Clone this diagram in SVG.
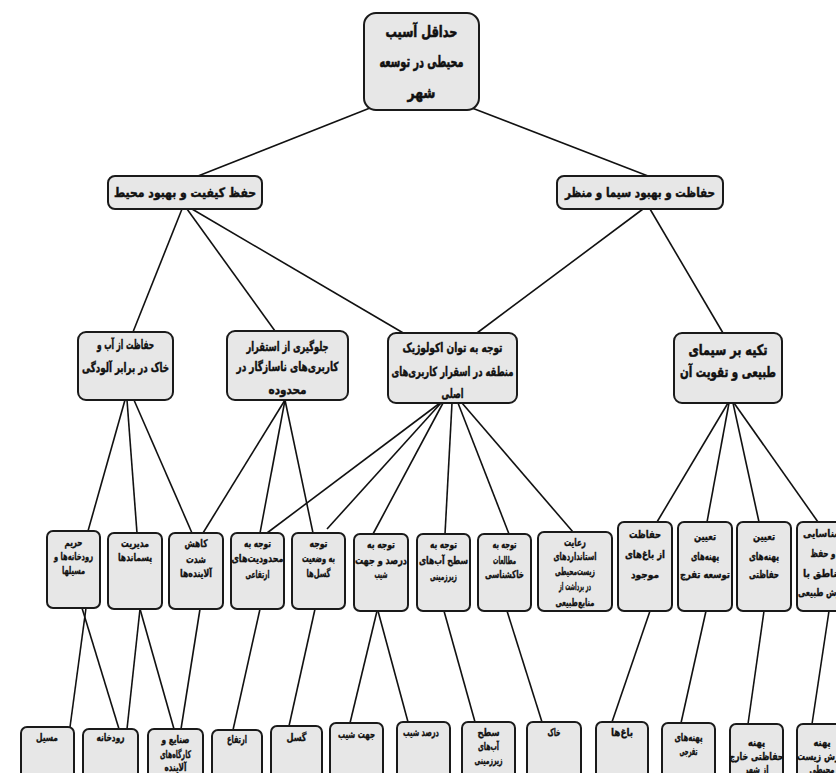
<svg xmlns="http://www.w3.org/2000/svg" width="836" height="773" viewBox="0 0 836 773">
<style>
.box{fill:#e7e7e7;stroke:#1a1a1a;stroke-width:2}
.t{font-family:"DejaVu Sans",sans-serif;font-weight:bold;text-anchor:middle;fill:#111;stroke:#111;stroke-width:0.4}
.t0{font-size:15.5px;stroke-width:0.6}
.t2{font-size:13px;stroke-width:0.5}
.t3{font-size:12.5px;stroke-width:0.45}
.t3b{font-size:14.5px;stroke-width:0.55}
.t4{font-size:10.5px;stroke-width:0.35}
.t5{font-size:10.5px;stroke-width:0.35}
#connectors line{stroke:#111;stroke-width:1.6}
</style>
<rect width="836" height="773" fill="#fff"/>
<g id="connectors">
<line x1="370" y1="108" x2="198" y2="176"/>
<line x1="472" y1="108" x2="648" y2="176"/>
<line x1="182" y1="209" x2="133" y2="332"/>
<line x1="187" y1="209" x2="275" y2="331"/>
<line x1="192" y1="209" x2="405" y2="334"/>
<line x1="643" y1="209" x2="477" y2="333"/>
<line x1="650" y1="209" x2="723" y2="333"/>
<line x1="125" y1="400" x2="88" y2="531"/>
<line x1="127" y1="400" x2="137" y2="533"/>
<line x1="134" y1="400" x2="192" y2="533"/>
<line x1="285" y1="400" x2="203" y2="533"/>
<line x1="285" y1="400" x2="260" y2="533"/>
<line x1="285" y1="400" x2="313" y2="533"/>
<line x1="440" y1="403" x2="267" y2="533"/>
<line x1="441" y1="403" x2="327" y2="529"/>
<line x1="443" y1="403" x2="373" y2="534"/>
<line x1="452" y1="403" x2="445" y2="534"/>
<line x1="458" y1="403" x2="509" y2="534"/>
<line x1="462" y1="403" x2="573" y2="532"/>
<line x1="728" y1="403" x2="657" y2="522"/>
<line x1="729" y1="403" x2="707" y2="522"/>
<line x1="733" y1="403" x2="759" y2="522"/>
<line x1="734" y1="403" x2="818" y2="522"/>
<line x1="86" y1="608" x2="70" y2="727"/>
<line x1="82" y1="608" x2="119" y2="729"/>
<line x1="140" y1="609" x2="127" y2="729"/>
<line x1="140" y1="609" x2="174" y2="729"/>
<line x1="200" y1="609" x2="181" y2="729"/>
<line x1="260" y1="609" x2="233" y2="730"/>
<line x1="315" y1="609" x2="289" y2="726"/>
<line x1="377" y1="611" x2="350" y2="723"/>
<line x1="378" y1="611" x2="408" y2="722"/>
<line x1="444" y1="611" x2="475" y2="722"/>
<line x1="507" y1="611" x2="542" y2="722"/>
<line x1="650" y1="611" x2="612" y2="722"/>
<line x1="706" y1="611" x2="681" y2="723"/>
<line x1="764" y1="611" x2="748" y2="724"/>
<line x1="829" y1="611" x2="812" y2="724"/>
</g>

<g id="root">
<rect class="box" x="364" y="13" width="115" height="97" rx="12"/>
<text class="t t0" x="421.5" y="37" textLength="72" lengthAdjust="spacingAndGlyphs">حداقل آسیب</text>
<text class="t t0" x="421.5" y="67" textLength="84" lengthAdjust="spacingAndGlyphs">محیطی در توسعه</text>
<text class="t t0" x="421.5" y="98" textLength="28" lengthAdjust="spacingAndGlyphs">شهر</text>
</g>

<g id="n-env">
<rect class="box" x="108" y="176" width="154" height="33" rx="7"/>
<text class="t t2" x="185" y="197" textLength="142" lengthAdjust="spacingAndGlyphs">حفظ کیفیت و بهبود محیط</text>
</g>
<g id="n-landscape">
<rect class="box" x="557" y="176" width="166" height="33" rx="7"/>
<text class="t t2" x="640" y="197" textLength="150" lengthAdjust="spacingAndGlyphs">حفاظت و بهبود سیما و منظر</text>
</g>

<g id="n-water-soil">
<rect class="box" x="78" y="332" width="95" height="68" rx="8"/>
<text class="t t3" x="125.5" y="349" textLength="57" lengthAdjust="spacingAndGlyphs">حفاظت از آب و</text>
<text class="t t3" x="125.5" y="372" textLength="87" lengthAdjust="spacingAndGlyphs">خاک در برابر آلودگی</text>
</g>
<g id="n-incompatible">
<rect class="box" x="227" y="331" width="121" height="69" rx="8"/>
<text class="t t3" x="287.5" y="351" textLength="82" lengthAdjust="spacingAndGlyphs">جلوگیری از استقرار</text>
<text class="t t3" x="287.5" y="371" textLength="102" lengthAdjust="spacingAndGlyphs">کاربری‌های ناسازگار در</text>
<text class="t t3" x="287.5" y="394" textLength="38" lengthAdjust="spacingAndGlyphs">محدوده</text>
</g>
<g id="n-ecology">
<rect class="box" x="388" y="333" width="129" height="70" rx="8"/>
<text class="t t3" x="452.5" y="352" textLength="100" lengthAdjust="spacingAndGlyphs">توجه به توان اکولوژیک</text>
<text class="t t3" x="452.5" y="376" textLength="122" lengthAdjust="spacingAndGlyphs">منطقه در اسقرار کاربری‌های</text>
<text class="t t3" x="452.5" y="398" textLength="22" lengthAdjust="spacingAndGlyphs">اصلی</text>
</g>
<g id="n-natural">
<rect class="box" x="674" y="333" width="108" height="70" rx="8"/>
<text class="t t3b" x="728" y="355" textLength="79" lengthAdjust="spacingAndGlyphs">تکیه بر سیمای</text>
<text class="t t3b" x="728" y="377" textLength="96" lengthAdjust="spacingAndGlyphs">طبیعی و تقویت آن</text>
</g>

<g id="n-buffer">
<rect class="box" x="47" y="531" width="53" height="77" rx="6"/>
<text class="t t4" x="73.5" y="546" textLength="18" lengthAdjust="spacingAndGlyphs">حریم</text>
<text class="t t4" x="73.5" y="560" textLength="39" lengthAdjust="spacingAndGlyphs">رودخانه‌ها و</text>
<text class="t t4" x="73.5" y="574" textLength="23" lengthAdjust="spacingAndGlyphs">مسیلها</text>
</g>
<g id="n-waste">
<rect class="box" x="108" y="533" width="54" height="76" rx="6"/>
<text class="t t4" x="135" y="547" textLength="28" lengthAdjust="spacingAndGlyphs">مدیریت</text>
<text class="t t4" x="135" y="561" textLength="34" lengthAdjust="spacingAndGlyphs">پسماندها</text>
</g>
<g id="n-pollutants">
<rect class="box" x="169" y="533" width="54" height="76" rx="6"/>
<text class="t t4" x="196" y="547" textLength="23" lengthAdjust="spacingAndGlyphs">کاهش</text>
<text class="t t4" x="196" y="563" textLength="20" lengthAdjust="spacingAndGlyphs">شدت</text>
<text class="t t4" x="196" y="577" textLength="32" lengthAdjust="spacingAndGlyphs">آلاینده‌ها</text>
</g>
<g id="n-height">
<rect class="box" x="231" y="533" width="53" height="76" rx="6"/>
<text class="t t4" x="257.5" y="547" textLength="27" lengthAdjust="spacingAndGlyphs">توجه به</text>
<text class="t t4" x="257.5" y="562" textLength="52" lengthAdjust="spacingAndGlyphs">محدودیت‌های</text>
<text class="t t4" x="257.5" y="578" textLength="24" lengthAdjust="spacingAndGlyphs">ارتفاعی</text>
</g>
<g id="n-faults">
<rect class="box" x="292" y="533" width="53" height="76" rx="6"/>
<text class="t t4" x="318.5" y="547" textLength="18" lengthAdjust="spacingAndGlyphs">توجه</text>
<text class="t t4" x="318.5" y="562" textLength="33" lengthAdjust="spacingAndGlyphs">به وضعیت</text>
<text class="t t4" x="318.5" y="577" textLength="24" lengthAdjust="spacingAndGlyphs">گسل‌ها</text>
</g>
<g id="n-slope">
<rect class="box" x="354" y="534" width="54" height="77" rx="6"/>
<text class="t t4" x="381" y="548" textLength="28" lengthAdjust="spacingAndGlyphs">توجه به</text>
<text class="t t4" x="381" y="564" textLength="52" lengthAdjust="spacingAndGlyphs">درصد و جهت</text>
<text class="t t4" x="381" y="578" textLength="13" lengthAdjust="spacingAndGlyphs">شیب</text>
</g>
<g id="n-groundwater">
<rect class="box" x="417" y="534" width="53" height="77" rx="6"/>
<text class="t t4" x="443.5" y="548" textLength="27" lengthAdjust="spacingAndGlyphs">توجه به</text>
<text class="t t4" x="443.5" y="564" textLength="49" lengthAdjust="spacingAndGlyphs">سطح آب‌های</text>
<text class="t t4" x="443.5" y="580" textLength="27" lengthAdjust="spacingAndGlyphs">زیرزمینی</text>
</g>
<g id="n-soilstudy">
<rect class="box" x="478" y="534" width="53" height="77" rx="6"/>
<text class="t t4" x="504.5" y="548" textLength="24" lengthAdjust="spacingAndGlyphs">توجه به</text>
<text class="t t4" x="504.5" y="564" textLength="23" lengthAdjust="spacingAndGlyphs">مطالعات</text>
<text class="t t4" x="504.5" y="578" textLength="39" lengthAdjust="spacingAndGlyphs">خاکشناسی</text>
</g>
<g id="n-standards">
<rect class="box" x="538" y="532" width="74" height="79" rx="6"/>
<text class="t t4" x="575" y="546" textLength="22" lengthAdjust="spacingAndGlyphs">رعایت</text>
<text class="t t4" x="575" y="560" textLength="43" lengthAdjust="spacingAndGlyphs">استانداردهای</text>
<text class="t t4" x="575" y="575" textLength="40" lengthAdjust="spacingAndGlyphs">زیست‌محیطی</text>
<text class="t t4" x="575" y="590" textLength="32" lengthAdjust="spacingAndGlyphs">در برداشت از</text>
<text class="t t4" x="575" y="606" textLength="39" lengthAdjust="spacingAndGlyphs">منابع‌طبیعی</text>
</g>
<g id="n-gardens">
<rect class="box" x="618" y="522" width="54" height="89" rx="6"/>
<text class="t t4" x="645" y="538" textLength="32" lengthAdjust="spacingAndGlyphs">حفاظت</text>
<text class="t t4" x="645" y="558" textLength="40" lengthAdjust="spacingAndGlyphs">از باغ‌های</text>
<text class="t t4" x="645" y="578" textLength="28" lengthAdjust="spacingAndGlyphs">موجود</text>
</g>
<g id="n-recreation">
<rect class="box" x="678" y="522" width="54" height="89" rx="6"/>
<text class="t t4" x="705" y="540" textLength="22" lengthAdjust="spacingAndGlyphs">تعیین</text>
<text class="t t4" x="705" y="560" textLength="28" lengthAdjust="spacingAndGlyphs">پهنه‌های</text>
<text class="t t4" x="705" y="578" textLength="50" lengthAdjust="spacingAndGlyphs">توسعه تفرج</text>
</g>
<g id="n-protected">
<rect class="box" x="737" y="522" width="54" height="89" rx="6"/>
<text class="t t4" x="764" y="540" textLength="22" lengthAdjust="spacingAndGlyphs">تعیین</text>
<text class="t t4" x="764" y="560" textLength="30" lengthAdjust="spacingAndGlyphs">پهنه‌های</text>
<text class="t t4" x="764" y="578" textLength="30" lengthAdjust="spacingAndGlyphs">حفاظتی</text>
</g>
<g id="n-valuable">
<rect class="box" x="797" y="522" width="52" height="89" rx="6"/>
<text class="t t4" x="823" y="537" textLength="40" lengthAdjust="spacingAndGlyphs">شناسایی</text>
<text class="t t4" x="823" y="557" textLength="25" lengthAdjust="spacingAndGlyphs">و حفظ</text>
<text class="t t4" x="823" y="577" textLength="40" lengthAdjust="spacingAndGlyphs">مناطق با</text>
<text class="t t4" x="823" y="596" textLength="50" lengthAdjust="spacingAndGlyphs">ارزش طبیعی</text>
</g>

<g id="l-stream">
<rect class="box" x="21" y="727" width="53" height="62" rx="6"/>
<text class="t t5" x="47" y="741" textLength="22" lengthAdjust="spacingAndGlyphs">مسیل</text>
</g>
<g id="l-river">
<rect class="box" x="83" y="729" width="55" height="62" rx="6"/>
<text class="t t5" x="110.5" y="741" textLength="28" lengthAdjust="spacingAndGlyphs">رودخانه</text>
</g>
<g id="l-industry">
<rect class="box" x="148" y="729" width="55" height="62" rx="6"/>
<text class="t t5" x="175.5" y="743" textLength="28" lengthAdjust="spacingAndGlyphs">صنایع و</text>
<text class="t t5" x="175.5" y="758" textLength="31" lengthAdjust="spacingAndGlyphs">کارگاه‌های</text>
<text class="t t5" x="175.5" y="771" textLength="22" lengthAdjust="spacingAndGlyphs">آلاینده</text>
</g>
<g id="l-height">
<rect class="box" x="212" y="730" width="50" height="62" rx="6"/>
<text class="t t5" x="237" y="743" textLength="20" lengthAdjust="spacingAndGlyphs">ارتفاع</text>
</g>
<g id="l-fault">
<rect class="box" x="271" y="726" width="51" height="62" rx="6"/>
<text class="t t5" x="296.5" y="741" textLength="20" lengthAdjust="spacingAndGlyphs">گسل</text>
</g>
<g id="l-aspect">
<rect class="box" x="330" y="723" width="53" height="62" rx="6"/>
<text class="t t5" x="356.5" y="738" textLength="37" lengthAdjust="spacingAndGlyphs">جهت شیب</text>
</g>
<g id="l-gradient">
<rect class="box" x="397" y="722" width="53" height="62" rx="6"/>
<text class="t t5" x="421" y="736" textLength="36" lengthAdjust="spacingAndGlyphs">درصد شیب</text>
</g>
<g id="l-groundwater">
<rect class="box" x="462" y="722" width="53" height="62" rx="6"/>
<text class="t t5" x="488.5" y="736" textLength="22" lengthAdjust="spacingAndGlyphs">سطح</text>
<text class="t t5" x="488.5" y="750" textLength="21" lengthAdjust="spacingAndGlyphs">آب‌های</text>
<text class="t t5" x="488.5" y="764" textLength="28" lengthAdjust="spacingAndGlyphs">زیرزمینی</text>
</g>
<g id="l-soil">
<rect class="box" x="527" y="722" width="54" height="62" rx="6"/>
<text class="t t5" x="554" y="736" textLength="13" lengthAdjust="spacingAndGlyphs">خاک</text>
</g>
<g id="l-gardens">
<rect class="box" x="596" y="722" width="52" height="62" rx="6"/>
<text class="t t5" x="622" y="736" textLength="22" lengthAdjust="spacingAndGlyphs">باغ‌ها</text>
</g>
<g id="l-recreation">
<rect class="box" x="662" y="723" width="53" height="62" rx="6"/>
<text class="t t5" x="688.5" y="741" textLength="28" lengthAdjust="spacingAndGlyphs">پهنه‌های</text>
<text class="t t5" x="688.5" y="755" textLength="18" lengthAdjust="spacingAndGlyphs">تفرجی</text>
</g>
<g id="l-protected">
<rect class="box" x="730" y="724" width="53" height="62" rx="6"/>
<text class="t t5" x="756.5" y="746" textLength="17" lengthAdjust="spacingAndGlyphs">پهنه</text>
<text class="t t5" x="756.5" y="760" textLength="54" lengthAdjust="spacingAndGlyphs">حفاظتی خارج</text>
<text class="t t5" x="756.5" y="773" textLength="24" lengthAdjust="spacingAndGlyphs">از شهر</text>
</g>
<g id="l-valuable">
<rect class="box" x="797" y="724" width="52" height="62" rx="6"/>
<text class="t t5" x="822" y="746" textLength="17" lengthAdjust="spacingAndGlyphs">پهنه</text>
<text class="t t5" x="822" y="760" textLength="50" lengthAdjust="spacingAndGlyphs">ارزش زیست</text>
<text class="t t5" x="822" y="773" textLength="25" lengthAdjust="spacingAndGlyphs">محیطی</text>
</g>
</svg>
